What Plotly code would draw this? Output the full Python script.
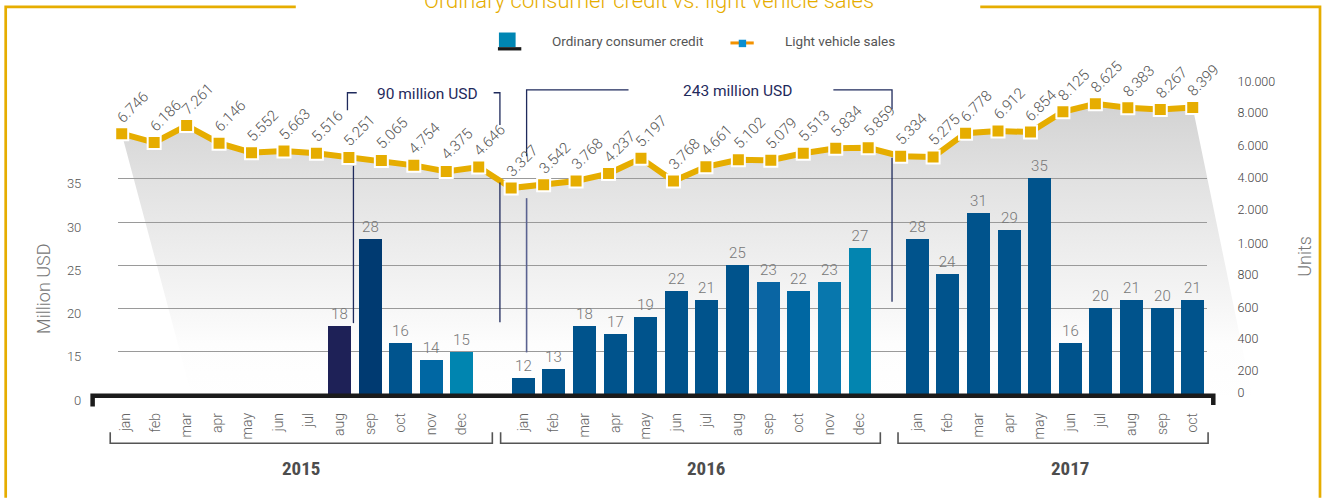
import plotly.graph_objects as go

# ---------------- data ----------------
years = ["2015", "2016", "2017"]
months_2015 = ["jan", "feb", "mar", "apr", "may", "jun", "jul", "aug", "sep", "oct", "nov", "dec"]
months_2016 = ["jan", "feb", "mar", "apr", "may", "jun", "jul", "aug", "sep", "oct", "nov", "dec"]
months_2017 = ["jan", "feb", "mar", "apr", "may", "jun", "jul", "aug", "sep", "oct"]

credit_2015 = [None, None, None, None, None, None, None, 18, 28, 16, 14, 15]
credit_2016 = [12, 13, 18, 17, 19, 22, 21, 25, 23, 22, 23, 27]
credit_2017 = [28, 24, 31, 29, 35, 16, 20, 21, 20, 21]

sales_2015 = [6.746, 6.186, 7.261, 6.146, 5.552, 5.663, 5.516, 5.251, 5.065, 4.754, 4.375, 4.646]
sales_2016 = [3.327, 3.542, 3.768, 4.237, 5.197, 3.768, 4.661, 5.102, 5.079, 5.513, 5.834, 5.859]
sales_2017 = [5.334, 5.275, 6.778, 6.912, 6.854, 8.125, 8.625, 8.383, 8.267, 8.399]

left_tick_values = [10, 15, 20, 25, 30, 35]
left_tick_text = ["0", "15", "20", "25", "30", "35"]
right_tick_text = ["10.000", "8.000", "6.000", "4.000", "2.000", "1.000", "800", "600", "400", "200", "0"]

title_text = "Ordinary consumer credit vs. light vehicle sales"
legend_credit = "Ordinary consumer credit"
legend_sales = "Light vehicle sales"
bracket_2015_text = "90 million USD"
bracket_2016_text = "243 million USD"

# ---------------- styles ----------------
bar_colors_2015 = [None] * 7 + ["#1e2157", "#003a71", "#00548e", "#0067a3", "#0085b0"]
bar_colors_2016 = ["#00538c"] * 8 + ["#0a65a3", "#0067a2", "#0877ad", "#0385b0"]
bar_colors_2017 = ["#00538c"] * 10

GOLD = "#e6ad00"
NAVY = "#1f2a5c"
FONT = "Roboto, Liberation Sans, Arial, sans-serif"
NARROW = "Liberation Sans Narrow, Roboto Condensed, DejaVu Sans Condensed, Arial Narrow, sans-serif"

# ---------------- layout geometry (pixels) ----------------
W, H = 1323, 504
PL, PR, PT, PB = 117, 1207, 70, 405          # bar/line plot area
SL, SR = 100, 1270                            # shading area (wider)


def fx(p):
    return p / W


def fy(p):
    return (H - p) / H


# bar x axis: slot spacing / origin in pixels
BAR_S, BAR_P0 = 30.64, 124.2
year_offsets = [0, 13, 25.87]
# line x axis
LINE_S, LINE_P0 = 32.48, 120.8
# left axis: value 35 at 183.3 px, 8.885 px per unit
L_PX35, L_PPU = 183.3, 8.885
# right axis (line): value 0 at 246.8 px, 16.28 px per unit
R_PX0, R_PPU = 246.8, 16.28
right_tick_px = [84, 115.7, 148.7, 181.7, 215, 250, 281.7, 314.7, 346.7, 380, 401.7]


def line_x(p):
    return (p - LINE_P0) / LINE_S


def line_y(p):
    return (R_PX0 - p) / R_PPU


x2_range = [(PL - BAR_P0) / BAR_S, (PR - BAR_P0) / BAR_S]
y2_range = [min(left_tick_values) - 0.02, 35 + (L_PX35 - PT) / L_PPU]
x3_range = [line_x(PL), line_x(PR)]
y3_range = [line_y(PB), line_y(PT)]
x1_range = [line_x(SL), line_x(SR)]

# ---------------- assemble series ----------------
all_months = [months_2015, months_2016, months_2017]
all_credit = [credit_2015, credit_2016, credit_2017]
all_colors = [bar_colors_2015, bar_colors_2016, bar_colors_2017]

bar_x, bar_y, bar_c = [], [], []
tick_x, tick_t = [], []
for off, ms, cr, cl in zip(year_offsets, all_months, all_credit, all_colors):
    for i, (m, v, c) in enumerate(zip(ms, cr, cl)):
        tick_x.append(off + i)
        tick_t.append(m)
        if v is not None:
            bar_x.append(off + i)
            bar_y.append(v)
            bar_c.append(c)

sales = sales_2015 + sales_2016 + sales_2017
line_idx = list(range(len(sales)))
sales_labels = [f"{v:.3f}" for v in sales]

fig = go.Figure()

# shading under the line (perspective wedge)
shade_x = line_idx + [line_x(1252), line_x(190)]
shade_y = sales + [line_y(405), line_y(402)]
fig.add_trace(go.Scatter(
    x=shade_x, y=shade_y, xaxis="x", yaxis="y",
    mode="none", fill="toself",
    fillgradient=dict(type="vertical",
                      colorscale=[[0, "#ffffff"], [0.2, "#fdfdfd"], [0.35, "#f5f5f5"],
                                  [0.74, "#e2e2e2"], [1, "#d3d3d3"]],
                      start=line_y(405), stop=max(sales)),
    hoverinfo="skip", showlegend=False,
))

# bars
fig.add_trace(go.Bar(
    x=bar_x, y=bar_y, xaxis="x2", yaxis="y2",
    marker=dict(color=bar_c, line=dict(width=0)),
    width=23 / BAR_S,
    text=[str(v) for v in bar_y], textposition="outside",
    textfont=dict(family=FONT, size=15, color="#777777", weight=300),
    cliponaxis=False, showlegend=False,
))

# line
fig.add_trace(go.Scatter(
    x=line_idx, y=sales, xaxis="x3", yaxis="y3",
    mode="lines+markers",
    line=dict(color=GOLD, width=6),
    marker=dict(symbol="square", size=13, color=GOLD, line=dict(color="white", width=2)),
    cliponaxis=False, showlegend=False,
))

annotations = []
for i, (v, t) in enumerate(zip(sales, sales_labels)):
    annotations.append(dict(
        x=i, y=v, xref="x3", yref="y3", text=t, showarrow=False,
        textangle=-45, xshift=11, yshift=27,
        font=dict(family=FONT, size=15, color="#555555", weight=300),
    ))

# title (cut at top)
annotations.append(dict(x=fx(648), y=fy(0.5), xref="paper", yref="paper", text=title_text,
                        showarrow=False, xanchor="center", yanchor="middle",
                        font=dict(family=FONT, size=22, color=GOLD, weight=300)))
# legend texts
annotations.append(dict(x=fx(549), y=fy(42.3), xref="paper", yref="paper", text=legend_credit,
                        showarrow=False, xanchor="left", yanchor="middle",
                        font=dict(family=FONT, size=13.5, color="#555555")))
annotations.append(dict(x=fx(783), y=fy(42.3), xref="paper", yref="paper", text=legend_sales,
                        showarrow=False, xanchor="left", yanchor="middle",
                        font=dict(family=FONT, size=13.5, color="#555555")))
# bracket texts
annotations.append(dict(x=fx(426.5), y=fy(96), xref="paper", yref="paper", text=bracket_2015_text,
                        showarrow=False, xanchor="center", yanchor="middle",
                        font=dict(family=FONT, size=15.5, color=NAVY)))
annotations.append(dict(x=fx(737), y=fy(93.3), xref="paper", yref="paper", text=bracket_2016_text,
                        showarrow=False, xanchor="center", yanchor="middle",
                        font=dict(family=FONT, size=15.5, color=NAVY)))
# axis titles
annotations.append(dict(x=fx(43), y=fy(296), xref="paper", yref="paper", text="Million USD",
                        showarrow=False, textangle=-90, xanchor="center", yanchor="middle",
                        font=dict(family=FONT, size=18, color="#777777", weight=300)))
annotations.append(dict(x=fx(1305), y=fy(263), xref="paper", yref="paper", text="Units",
                        showarrow=False, textangle=-90, xanchor="center", yanchor="middle",
                        font=dict(family=FONT, size=18, color="#777777", weight=300)))
# year labels
for yr, cx in zip(years, [300, 706, 1070]):
    annotations.append(dict(x=fx(cx), y=fy(480), xref="paper", yref="paper", text=yr,
                            showarrow=False, xanchor="center", yanchor="middle",
                            font=dict(family=NARROW, size=19, color="#4d4d4d", weight="bold")))

shapes = []


def seg(x0, y0, x1, y1, color, width):
    shapes.append(dict(type="line", xref="paper", yref="paper",
                       x0=fx(x0), y0=fy(y0), x1=fx(x1), y1=fy(y1),
                       line=dict(color=color, width=width)))


def path(points, color, width):
    d = "M " + " L ".join(f"{fx(a):.5f},{fy(b):.5f}" for a, b in points)
    shapes.append(dict(type="path", xref="paper", yref="paper", path=d,
                       line=dict(color=color, width=width)))


def rect(x0, y0, x1, y1, color):
    shapes.append(dict(type="rect", xref="paper", yref="paper",
                       x0=fx(x0), y0=fy(y0), x1=fx(x1), y1=fy(y1),
                       fillcolor=color, line=dict(width=0)))


# gold frame
path([(4.7, 510), (4.7, 7), (295, 7)], GOLD, 2.7)
path([(980, 7), (1320, 7), (1320, 510)], GOLD, 2.7)

# legend icons
rect(498.3, 33.3, 515, 48.3, "#0086b3")
rect(497.3, 48.3, 520.7, 51.7, "#1a1a1a")
seg(730, 44, 753.3, 44, "#f39200", 3)
rect(738.3, 40.7, 745.7, 48.3, "#0a8ed1")

# top brackets
path([(356, 95), (346.7, 95), (346.7, 113)], NAVY, 1.3)
path([(493, 95), (499.3, 95), (499.3, 128)], NAVY, 1.3)
seg(499.3, 187, 499.3, 330, NAVY, 1.3)
seg(352.7, 170, 352.7, 331, NAVY, 1.3)
path([(628, 92), (526, 92), (526, 160)], NAVY, 1.3)
seg(526, 203, 526, 361, "#5a6290", 1.6)
path([(833, 92), (891.7, 92), (891.7, 111.7)], NAVY, 1.3)
seg(891.7, 161.7, 891.7, 309, NAVY, 1.3)

# black base line with hooks
path([(91.7, 416.5), (91.7, 405.5), (1213.2, 405.5), (1213.2, 415)], "#1b1b1b", 4.5)

# year brackets
for x0, x1 in [(109.3, 491.7), (500, 880), (897.7, 1208)]:
    path([(x0, 442.7), (x0, 454), (x1, 454), (x1, 442.7)], "#555555", 1.6)

ydom = [fy(PB), fy(PT)]
fig.update_layout(
    width=W, height=H,
    margin=dict(l=0, r=0, t=0, b=0),
    paper_bgcolor="white", plot_bgcolor="rgba(0,0,0,0)",
    showlegend=False,
    xaxis=dict(domain=[fx(SL), fx(SR)], range=x1_range, visible=False, anchor="y"),
    yaxis=dict(domain=ydom, range=y3_range, visible=False, anchor="x"),
    xaxis2=dict(domain=[fx(PL), fx(PR)], range=x2_range, anchor="y2",
                tickmode="array", tickvals=tick_x, ticktext=tick_t, tickangle=-90,
                showgrid=False, zeroline=False, showline=False,
                ticks="outside", ticklen=11, tickcolor="rgba(0,0,0,0)",
                tickfont=dict(family=FONT, size=14, color="#666666", weight=300)),
    yaxis2=dict(domain=ydom, range=y2_range, anchor="x2",
                tickmode="array", tickvals=left_tick_values, ticktext=left_tick_text,
                showgrid=True, gridcolor="#9a9a9a", gridwidth=1, zeroline=False,
                showline=False, ticks="outside", ticklen=33, tickcolor="rgba(0,0,0,0)",
                ticklabelshift=5,
                tickfont=dict(family=FONT, size=13, color="#555555", weight=300)),
    xaxis3=dict(overlaying="x2", range=x3_range, anchor="y3", visible=False),
    yaxis3=dict(overlaying="y2", range=y3_range, anchor="x3", side="right",
                tickmode="array", tickvals=[line_y(p) for p in right_tick_px],
                ticktext=right_tick_text, showgrid=False, zeroline=False,
                showline=False, ticks="outside", ticklen=27, tickcolor="rgba(0,0,0,0)",
                tickfont=dict(family=FONT, size=12.5, color="#444444", weight=300)),
    bargap=0,
    annotations=annotations,
    shapes=shapes,
)

fig.write_html("out.html", config={"displayModeBar": False},
               post_script="document.body.style.margin='0';document.body.style.overflow='hidden';")
